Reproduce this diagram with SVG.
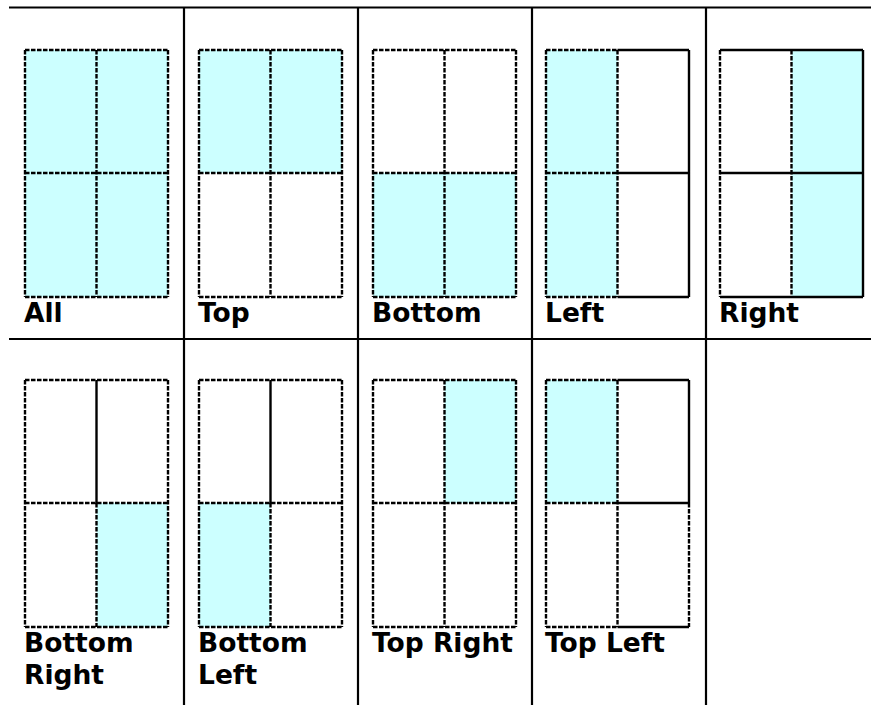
<svg xmlns="http://www.w3.org/2000/svg" width="871" height="705" viewBox="0 0 871 705">
<style>
.bg{fill:#ffffff}
.q{fill:#ccffff}
.d{stroke:#000;stroke-width:2.4;fill:none;stroke-dasharray:4.5 1.5}
.s{stroke:#000;stroke-width:2.4;fill:none}
.grid{stroke:#000;stroke-width:2.2;fill:none}
.lbl{font-family:"DejaVu Sans","Verdana",sans-serif;font-weight:bold;font-size:26.5px;fill:#000}
</style>
<rect class="bg" x="0" y="0" width="871" height="705"/>
<g id="grid">
<path class="grid" d="M9 7.5H871M9 339H871M184 7.5V705M358 7.5V705M532 7.5V705M706 7.5V705"/>
</g>
<g id="cell-all" transform="translate(25,50)">
<rect class="q" x="0" y="0" width="143" height="247"/>
<path class="d" d="M0 0H143M0 123H143M0 247H143M0 0V247M71.5 0V247M143 0V247"/>
<text class="lbl" x="-1" y="272">All</text>
</g>
<g id="cell-top" transform="translate(199,50)">
<rect class="q" x="0" y="0" width="143" height="123"/>
<path class="d" d="M0 0H143M0 123H143M0 247H143M0 0V247M71.5 0V247M143 0V247"/>
<text class="lbl" x="-1" y="272">Top</text>
</g>
<g id="cell-bottom" transform="translate(373,50)">
<rect class="q" x="0" y="123" width="143" height="124"/>
<path class="d" d="M0 0H143M0 123H143M0 247H143M0 0V247M71.5 0V247M143 0V247"/>
<text class="lbl" x="-1" y="272">Bottom</text>
</g>
<g id="cell-left" transform="translate(546,50)">
<rect class="q" x="0" y="0" width="71.5" height="247"/>
<path class="d" d="M0 0H71.5M0 123H71.5M0 247H71.5M0 0V247M71.5 0V247"/>
<path class="s" d="M71.5 0H143M71.5 123H143M71.5 247H143M143 0V247"/>
<text class="lbl" x="-1" y="272">Left</text>
</g>
<g id="cell-right" transform="translate(720,50)">
<rect class="q" x="71.5" y="0" width="71.5" height="247"/>
<path class="d" d="M0 0V247M71.5 0V247"/>
<path class="s" d="M0 0H143M0 123H143M0 247H143M143 0V247"/>
<text class="lbl" x="-1" y="272">Right</text>
</g>
<g id="cell-bottom-right" transform="translate(25,380)">
<rect class="q" x="71.5" y="123" width="71.5" height="124"/>
<path class="d" d="M0 0H143M0 123H143M0 247H143M0 0V247M71.5 123V247M143 0V247"/>
<path class="s" d="M71.5 0V123"/>
<text class="lbl" x="-1" y="272">Bottom</text>
<text class="lbl" x="-1" y="304">Right</text>
</g>
<g id="cell-bottom-left" transform="translate(199,380)">
<rect class="q" x="0" y="123" width="71.5" height="124"/>
<path class="d" d="M0 0H143M0 123H143M0 247H143M0 0V247M71.5 123V247M143 0V247"/>
<path class="s" d="M71.5 0V123"/>
<text class="lbl" x="-1" y="272">Bottom</text>
<text class="lbl" x="-1" y="304">Left</text>
</g>
<g id="cell-top-right" transform="translate(373,380)">
<rect class="q" x="71.5" y="0" width="71.5" height="123"/>
<path class="d" d="M0 0H143M0 123H143M0 247H143M0 0V247M71.5 0V247M143 0V247"/>
<text class="lbl" x="-1" y="272">Top Right</text>
</g>
<g id="cell-top-left" transform="translate(546,380)">
<rect class="q" x="0" y="0" width="71.5" height="123"/>
<path class="d" d="M0 0H71.5M0 123H71.5M0 247H71.5M0 0V247M71.5 0V247M143 123V247"/>
<path class="s" d="M71.5 0H143M71.5 123H143M71.5 247H143M143 0V123"/>
<text class="lbl" x="-1" y="272">Top Left</text>
</g>
</svg>
